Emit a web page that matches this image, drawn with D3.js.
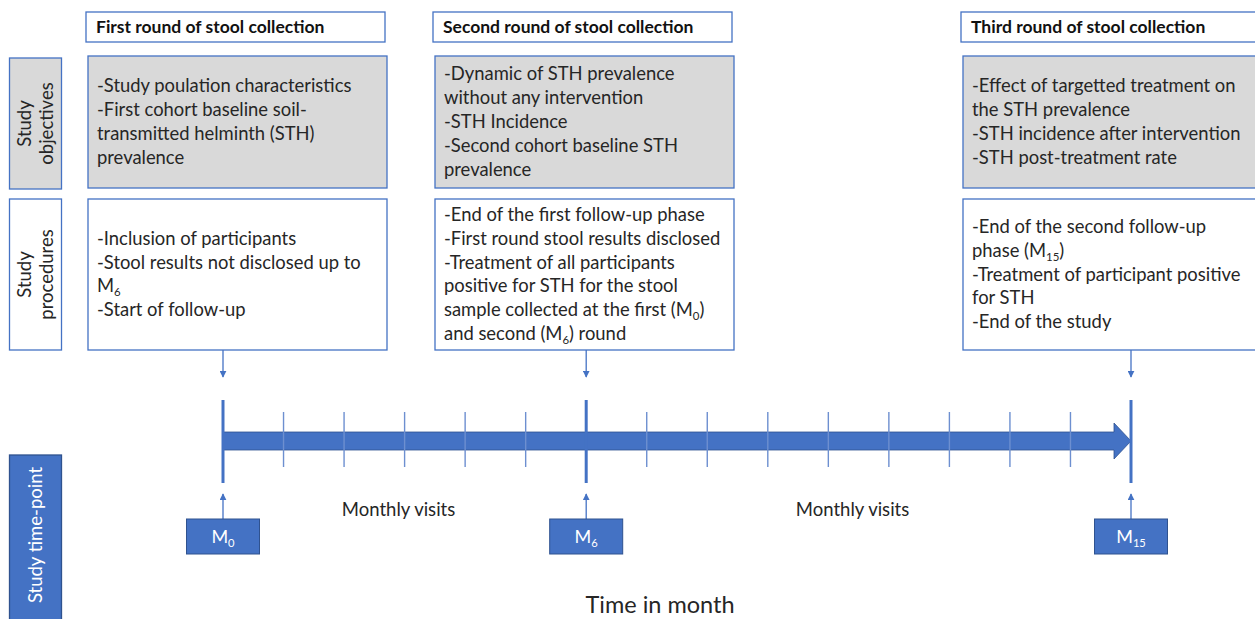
<!DOCTYPE html>
<html>
<head>
<meta charset="utf-8">
<script src="https://cdn.jsdelivr.net/npm/d3@7"></script>
<style>
  body { margin: 0; background: #fff; }
  svg text { font-family: Lato, "Open Sans", sans-serif; }
</style>
</head>
<body>
<div id="chart"></div>
<script>
// data
var rounds = ["First round of stool collection", "Second round of stool collection", "Third round of stool collection"];
var roundMonths = [0, 6, 15];
var objectives = [
  ["-Study poulation characteristics", "-First cohort baseline soil-", "transmitted helminth (STH)", "prevalence"],
  ["-Dynamic of STH prevalence", "without any intervention", "-STH Incidence", "-Second cohort baseline STH", "prevalence"],
  ["-Effect of targetted treatment on", "the STH prevalence", "-STH incidence after intervention", "-STH post-treatment rate"]
];
var procedures = [
  ["-Inclusion of participants", "-Stool results not disclosed up to", "M_{6}", "-Start of follow-up"],
  ["-End of the first follow-up phase", "-First round stool results disclosed", "-Treatment of all participants", "positive for STH for the stool", "sample collected at the first (M_{0})", "and second (M_{6}) round"],
  ["-End of the second follow-up", "phase (M_{15})", "-Treatment of participant positive", "for STH", "-End of the study"]
];
var rowLabels = [["Study", "objectives"], ["Study", "procedures"], ["Study time-point"]];
var months = d3.range(0, 16);
var visitLabel = "Monthly visits";
var visitLabelMonths = [2.9, 10.4];
var axisTitle = "Time in month";

var W = 1255, H = 619;
var blue = "#4472C4", dark = "#2F528F", txt = "#262626";

var svg = d3.select("#chart").append("svg").attr("width", W).attr("height", H);

var x = d3.scaleLinear().domain([0, 15]).range([223, 1131]);
var colX = [88, 435, 963], colW = 299;

// write a line with optional subscripts written as _{..}
function writeLine(t, s, size) {
  var parts = s.split(/_\{([^}]*)\}/);
  var back = 0;
  parts.forEach(function (p, i) {
    if (p === "") return;
    var sp = t.append("tspan").text(p);
    if (i % 2 === 1) {
      sp.attr("font-size", size * 0.62).attr("dy", size * 0.22);
      back = -size * 0.22;
    } else if (back) {
      sp.attr("dy", back);
      back = 0;
    }
  });
}

// headers
rounds.forEach(function (r, i) {
  svg.append("rect").attr("x", colX[i] - 2).attr("y", 12).attr("width", colW).attr("height", 30)
    .attr("fill", "#fff").attr("stroke", blue).attr("stroke-width", 1.3);
  svg.append("text").attr("x", colX[i] + 8).attr("y", 33).attr("font-size", 17.5).attr("font-weight", "bold")
    .attr("fill", "#111").text(r);
});

function textBox(lines, i, y0, h, fill) {
  svg.append("rect").attr("x", colX[i]).attr("y", y0).attr("width", colW).attr("height", h)
    .attr("fill", fill).attr("stroke", blue).attr("stroke-width", 1.3);
  var lh = 23.8, size = 18.4;
  var top = y0 + h / 2 - lines.length * lh / 2;
  lines.forEach(function (l, k) {
    var t = svg.append("text").attr("x", colX[i] + 9).attr("y", top + k * lh + lh / 2 + 6)
      .attr("font-size", size).attr("fill", txt);
    writeLine(t, l, size);
  });
}
objectives.forEach(function (o, i) { textBox(o, i, 56, 132, "#D9D9D9"); });
procedures.forEach(function (p, i) { textBox(p, i, 199, 151, "#fff"); });

// row labels
var labelBoxes = [[58, 131, "#D9D9D9"], [199, 151, "#fff"], [455, 180, blue]];
rowLabels.forEach(function (lab, i) {
  var b = labelBoxes[i];
  svg.append("rect").attr("x", 9.5).attr("y", b[0]).attr("width", 52).attr("height", b[1])
    .attr("fill", b[2]).attr("stroke", i == 2 ? dark : blue).attr("stroke-width", 1.3);
  var cy = i == 2 ? 535 : b[0] + b[1] / 2;
  var t = svg.append("text").attr("transform", "translate(36," + cy + ") rotate(-90)")
    .attr("text-anchor", "middle").attr("font-size", 18.5).attr("fill", i == 2 ? "#fff" : txt);
  lab.forEach(function (l, k) {
    t.append("tspan").attr("x", 0).attr("y", (k - (lab.length - 1) / 2) * 22 + 6).text(l);
  });
});

// arrow marker
var defs = svg.append("defs");
defs.append("marker").attr("id", "ah").attr("viewBox", "0 0 10 10").attr("refX", 9).attr("refY", 5)
  .attr("markerWidth", 7).attr("markerHeight", 7).attr("markerUnits", "userSpaceOnUse").attr("orient", "auto")
  .append("path").attr("d", "M0,0L10,5L0,10Z").attr("fill", blue);

// connectors from procedure boxes
roundMonths.forEach(function (m) {
  svg.append("line").attr("x1", x(m)).attr("x2", x(m)).attr("y1", 350).attr("y2", 377)
    .attr("stroke", blue).attr("stroke-width", 1.3).attr("marker-end", "url(#ah)");
});

// timeline arrow
var yc = 441;
svg.append("path")
  .attr("d", "M" + x(0) + "," + (yc - 9) + "L" + (x(15) - 17) + "," + (yc - 9) + "L" + (x(15) - 17) + "," + (yc - 18) +
    "L" + x(15) + "," + yc + "L" + (x(15) - 17) + "," + (yc + 18) + "L" + (x(15) - 17) + "," + (yc + 9) +
    "L" + x(0) + "," + (yc + 9) + "Z")
  .attr("fill", blue).attr("stroke", dark).attr("stroke-width", 0.8);

// month ticks
svg.selectAll(".tick").data(months).enter().append("line")
  .attr("x1", function (d) { return x(d); }).attr("x2", function (d) { return x(d); })
  .attr("y1", function (d) { return roundMonths.indexOf(d) >= 0 ? 400 : 412; })
  .attr("y2", function (d) { return roundMonths.indexOf(d) >= 0 ? 483 : 467; })
  .attr("stroke", function (d) { return roundMonths.indexOf(d) >= 0 ? blue : "#6D8FD0"; })
  .attr("stroke-width", function (d) { return roundMonths.indexOf(d) >= 0 ? 3 : 1.4; });

// monthly visit labels
visitLabelMonths.forEach(function (m) {
  svg.append("text").attr("x", x(m)).attr("y", 516).attr("text-anchor", "middle")
    .attr("font-size", 18.5).attr("fill", txt).text(visitLabel);
});

// time-point boxes
roundMonths.forEach(function (m) {
  svg.append("line").attr("x1", x(m)).attr("x2", x(m)).attr("y1", 519).attr("y2", 494)
    .attr("stroke", blue).attr("stroke-width", 1.3).attr("marker-end", "url(#ah)");
  svg.append("rect").attr("x", x(m) - 36.5).attr("y", 519).attr("width", 73).attr("height", 35)
    .attr("fill", blue).attr("stroke", dark).attr("stroke-width", 1);
  var t = svg.append("text").attr("x", x(m)).attr("y", 543).attr("text-anchor", "middle")
    .attr("font-size", 18).attr("fill", "#fff");
  writeLine(t, "M_{" + m + "}", 18);
});

svg.append("text").attr("x", 660).attr("y", 613).attr("text-anchor", "middle")
  .attr("font-size", 23.5).attr("fill", txt).text(axisTitle);
</script>
</body>
</html>
